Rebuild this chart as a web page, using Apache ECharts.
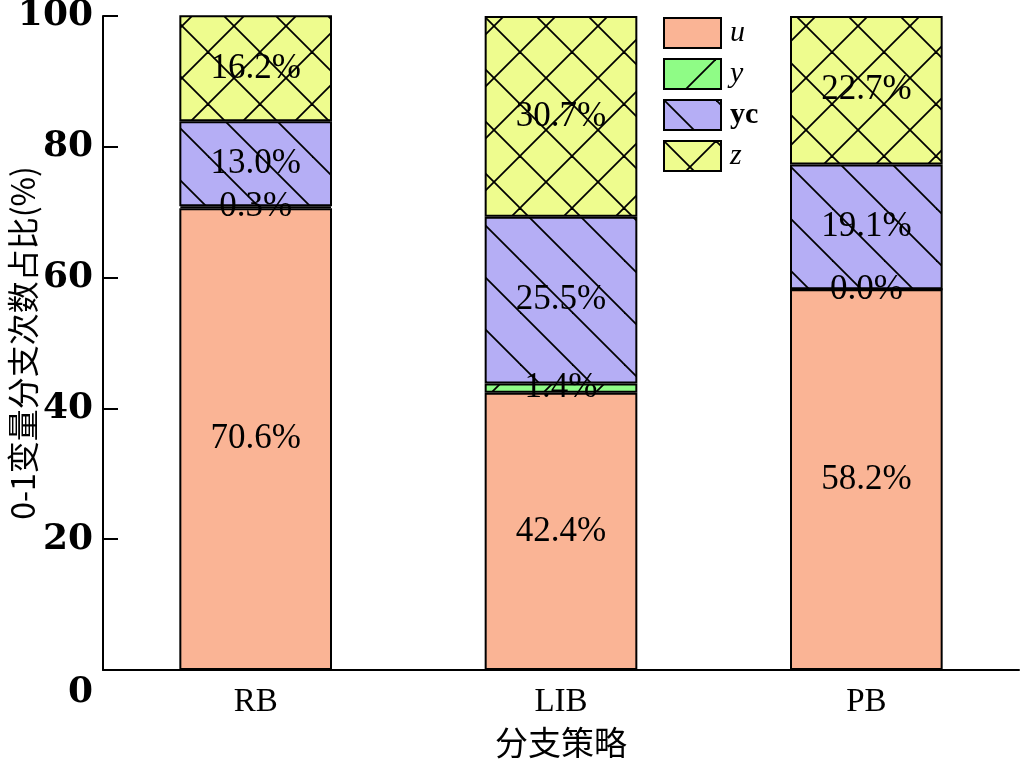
<!DOCTYPE html>
<html><head><meta charset="utf-8">
<script src="https://cdn.jsdelivr.net/npm/echarts@6/dist/echarts.min.js"></script>
<style>html,body{margin:0;padding:0;background:#fff}#c{width:1021px;height:760px}</style>
</head><body><div id="c"></div>
<script>
const categories = ['RB', 'LIB', 'PB'];
const seriesNames = ['u', 'y', 'yc', 'z'];
const uValues = [70.6, 42.4, 58.2];
const yValues = [0.3, 1.4, 0.0];
const ycValues = [13.0, 25.5, 19.1];
const zValues = [16.2, 30.7, 22.7];
const yTicks = [0, 20, 40, 60, 80, 100];

function makePattern(bg, kind) {
  const S = 52;
  const c = document.createElement('canvas');
  c.width = S; c.height = S;
  const g = c.getContext('2d');
  g.fillStyle = bg; g.fillRect(0, 0, S, S);
  g.strokeStyle = '#000'; g.lineWidth = 1.8;
  const fwd = () => { // "/" lines: x+y = k
    [0, S, 2 * S].forEach(k => { g.beginPath(); g.moveTo(k + 2, -2); g.lineTo(k - S - 2, S + 2); g.stroke(); });
  };
  const back = () => { // "\" lines: y - x = k
    [-S, 0, S].forEach(k => { g.beginPath(); g.moveTo(-2, k - 2); g.lineTo(S + 2, k + S + 2); g.stroke(); });
  };
  if (kind === 'fwd') fwd();
  if (kind === 'back') back();
  if (kind === 'cross') { fwd(); back(); }
  return { image: c, repeat: 'repeat' };
}

const fills = [
  '#FAB495',
  makePattern('#8FFC86', 'fwd'),
  makePattern('#B5AEF5', 'back'),
  makePattern('#EEFC8E', 'cross')
];
const dataSets = [uValues, yValues, ycValues, zValues];

const font = 'Liberation Serif';
const series = seriesNames.map((n, i) => ({
  name: n,
  type: 'bar',
  stack: 'all',
  barWidth: '50%',
  data: dataSets[i],
  itemStyle: { color: fills[i], borderColor: '#000', borderWidth: 2 },
  label: {
    show: true, position: 'inside', color: '#000',
    fontFamily: font, fontSize: 35,
    formatter: p => p.value.toFixed(1) + '%'
  },
  emphasis: { disabled: true }
}));

const chart = echarts.init(document.getElementById('c'), null, { renderer: 'canvas' });
chart.setOption({
  animation: false,
  backgroundColor: '#fff',
  grid: { left: 103, right: 2, top: 16, bottom: 90, containLabel: false, outerBoundsMode: 'none' },
  legend: {
    data: seriesNames,
    left: 663, top: 17, padding: 0,
    orient: 'vertical',
    itemWidth: 57, itemHeight: 30, itemGap: 9,
    icon: 'rect',
    itemStyle: { borderColor: '#000', borderWidth: 2 },
    textStyle: { fontFamily: font, fontSize: 30, lineHeight: 30, color: '#000', padding: [0, 0, 0, 4],
      rich: {
        it: { fontFamily: font, fontSize: 30, lineHeight: 30, fontStyle: 'italic', color: '#000' },
        bd: { fontFamily: font, fontSize: 30, lineHeight: 30, fontWeight: 'bold', color: '#000' }
      } },
    formatter: n => n === 'yc' ? '{bd|' + n + '}' : '{it|' + n + '}'
  },
  xAxis: {
    type: 'category', data: categories,
    name: '分支策略', nameLocation: 'middle', nameGap: 56, nameMoveOverlap: false,
    nameTextStyle: { fontFamily: 'Noto Sans CJK SC', fontSize: 33, color: '#000' },
    axisLine: { lineStyle: { color: '#000', width: 2 } },
    axisTick: { inside: true, length: 15, lineStyle: { color: '#000', width: 2 } },
    axisLabel: { fontFamily: font, fontSize: 33, color: '#000', margin: 16 }
  },
  yAxis: {
    type: 'value', min: 0, max: 100, interval: 20,
    name: '0-1变量分支次数占比(%)', nameLocation: 'middle', nameGap: 64, nameMoveOverlap: false,
    nameTextStyle: { fontFamily: 'Noto Sans CJK SC', fontSize: 32, color: '#000' },
    axisLine: { show: true, lineStyle: { color: '#000', width: 2 } },
    axisTick: { show: true, inside: true, length: 15, lineStyle: { color: '#000', width: 2 } },
    splitLine: { show: false },
    axisLabel: {
      color: '#000', margin: 10,
      formatter: v => (yTicks.indexOf(v) >= 0 ? (v === 0 ? '{z|' + v + '}' : '{b|' + v + '}') : ''),
      rich: {
        b: { fontFamily: 'DejaVu Serif', fontSize: 36, fontWeight: 'bold', color: '#000' },
        z: { fontFamily: 'DejaVu Serif', fontSize: 36, fontWeight: 'bold', color: '#000', padding: [46, 0, 0, 0] }
      }
    }
  },
  series: series
});
</script></body></html>
